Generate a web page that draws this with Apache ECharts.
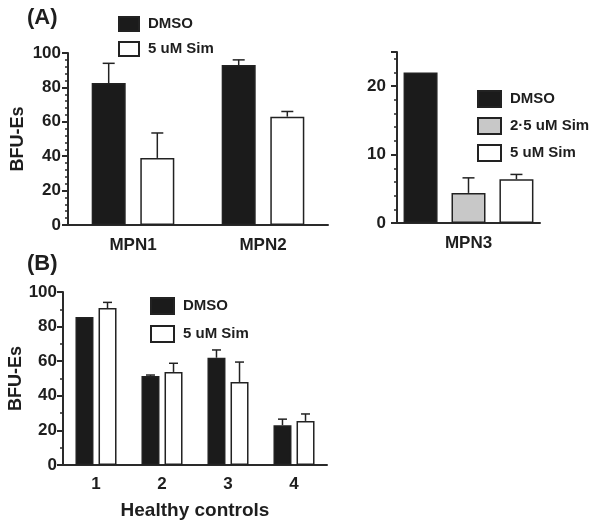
<!DOCTYPE html>
<html>
<head>
<meta charset="utf-8">
<script src="https://cdn.jsdelivr.net/npm/echarts@6/dist/echarts.min.js"></script>
<style>html,body{margin:0;padding:0;background:#fff}#c{width:601px;height:529px}</style>
</head>
<body>
<div id="c"></div>
<script>
// ---- Data ----
const mpnCats = ['MPN1', 'MPN2'];
const mpnDmso = [82.5, 93];
const mpnDmsoErr = [11.5, 3];
const mpnSim5 = [39, 63];
const mpnSim5Err = [14.5, 3];

const mpn3Cats = ['MPN3'];
const mpn3Dmso = [22];
const mpn3DmsoErr = [0];
const mpn3Sim25 = [4.4];
const mpn3Sim25Err = [2.2];
const mpn3Sim5 = [6.4];
const mpn3Sim5Err = [0.7];

const hcCats = ['1', '2', '3', '4'];
const hcDmso = [85.5, 51.5, 62, 23];
const hcDmsoErr = [0, 0.5, 4.5, 3.5];
const hcSim5 = [90.7, 53.8, 48, 25.5];
const hcSim5Err = [3.3, 5, 11.5, 4];

const yTicksA = [0, 20, 40, 60, 80, 100];
const yTicksA3 = [0, 10, 20];
const yTicksB = [0, 20, 40, 60, 80, 100];

// ---- Styles ----
const FONT = 'Liberation Sans, Arial, Helvetica, sans-serif';
const TXT = '#1e1e1e';
const BLACK = '#1b1b1b';
const GRAY = '#c8c8c8';
const WHITE = '#ffffff';
const EDGE = '#222';

function barStyle(color) {
  return { color: color, borderColor: EDGE, borderWidth: 1.5 };
}

function errSeries(name, cats, vals, errs, axisIdx, idx, n, bw, gapPct, capW) {
  const step = bw * (1 + gapPct);
  const off = (idx - (n - 1) / 2) * step;
  return {
    type: 'custom',
    name: name + ' err',
    xAxisIndex: axisIdx, yAxisIndex: axisIdx,
    z: 5,
    silent: true,
    data: vals.map((v, i) => [i, v, errs[i]]),
    renderItem: function (params, api) {
      const e = api.value(2);
      if (!e) return null;
      const p0 = api.coord([api.value(0), api.value(1)]);
      const p1 = api.coord([api.value(0), api.value(1) + e]);
      const x = p0[0] + off;
      const st = { stroke: EDGE, lineWidth: 1.5 };
      return {
        type: 'group',
        children: [
          { type: 'line', shape: { x1: x, y1: p0[1], x2: x, y2: p1[1] }, style: st },
          { type: 'line', shape: { x1: x - capW / 2, y1: p1[1], x2: x + capW / 2, y2: p1[1] }, style: st }
        ]
      };
    }
  };
}

function yAxisCfg(gridIdx, max, interval, minorSplit, ticks, margin, name, nameGap) {
  return {
    type: 'value', gridIndex: gridIdx, min: 0, max: max, interval: interval,
    name: name, nameLocation: 'middle', nameGap: nameGap, nameRotate: 90,
    nameTextStyle: { fontFamily: FONT, fontWeight: 'bold', fontSize: 18, color: TXT },
    axisLine: { show: true, lineStyle: { color: '#2a2a2a', width: 2 } },
    axisTick: { show: true, inside: false, length: 6, lineStyle: { color: '#2a2a2a', width: 2 } },
    minorTick: { show: true, splitNumber: minorSplit, length: 3, lineStyle: { color: '#2a2a2a', width: 1.5 } },
    splitLine: { show: false },
    axisLabel: {
      margin: margin, fontFamily: FONT, fontWeight: 'bold', fontSize: 17, color: TXT,
      showMaxLabel: ticks.indexOf(max) >= 0,
      formatter: function (v) { return ticks.indexOf(v) >= 0 ? String(v) : ''; }
    }
  };
}

function xAxisCfg(gridIdx, cats, margin, name, nameGap) {
  return {
    type: 'category', gridIndex: gridIdx, data: cats,
    name: name || '', nameLocation: 'middle', nameGap: nameGap || 0,
    nameTextStyle: { fontFamily: FONT, fontWeight: 'bold', fontSize: 19, color: TXT },
    axisLine: { show: true, lineStyle: { color: '#2a2a2a', width: 2 } },
    axisTick: { show: false },
    axisLabel: { margin: margin, fontFamily: FONT, fontWeight: 'bold', fontSize: 17, color: TXT }
  };
}

const legendText = { fontFamily: FONT, fontWeight: 'bold', fontSize: 15, color: TXT, padding: [0, 0, 0, 4] };

const option = {
  backgroundColor: '#fff',
  animation: false,
  title: [
    { text: '(A)', left: 22, top: 2, textStyle: { fontFamily: FONT, fontWeight: 'bold', fontSize: 22, color: TXT } },
    { text: '(B)', left: 22, top: 248, textStyle: { fontFamily: FONT, fontWeight: 'bold', fontSize: 22, color: TXT } }
  ],
  grid: [
    { left: 68, top: 53, width: 260, height: 172 },
    { left: 397, top: 52, width: 143, height: 171 },
    { left: 63, top: 292, width: 264, height: 173 }
  ],
  legend: [
    { orient: 'vertical', left: 118, top: 16, padding: 0, icon: 'rect', itemWidth: 20, itemHeight: 14, itemGap: 9,
      data: ['DMSO', '5 uM Sim'], textStyle: legendText, selectedMode: false },
    { orient: 'vertical', left: 477, top: 90, padding: 0, icon: 'rect', itemWidth: 23, itemHeight: 16, itemGap: 9,
      data: ['DMSO', '2·5 uM Sim', '5 uM Sim'], textStyle: legendText, selectedMode: false },
    { orient: 'vertical', left: 150, top: 297, padding: 0, icon: 'rect', itemWidth: 23, itemHeight: 16, itemGap: 10,
      data: ['DMSO', '5 uM Sim'], textStyle: legendText, selectedMode: false }
  ],
  xAxis: [
    xAxisCfg(0, mpnCats, 12),
    xAxisCfg(1, mpn3Cats, 12),
    xAxisCfg(2, hcCats, 11, 'Healthy controls', 36)
  ],
  yAxis: [
    yAxisCfg(0, 100, 20, 5, yTicksA, 7, 'BFU-Es', 41),
    yAxisCfg(1, 25, 10, 5, yTicksA3, 11, '', 0),
    yAxisCfg(2, 100, 20, 2, yTicksB, 6, 'BFU-Es', 36)
  ],
  series: [
    { type: 'bar', name: 'DMSO', xAxisIndex: 0, yAxisIndex: 0, data: mpnDmso, barWidth: 34, barGap: '43%', itemStyle: barStyle(BLACK) },
    { type: 'bar', name: '5 uM Sim', xAxisIndex: 0, yAxisIndex: 0, data: mpnSim5, barWidth: 34, barGap: '43%', itemStyle: barStyle(WHITE) },
    errSeries('DMSO', mpnCats, mpnDmso, mpnDmsoErr, 0, 0, 2, 34, 0.43, 12),
    errSeries('5 uM Sim', mpnCats, mpnSim5, mpnSim5Err, 0, 1, 2, 34, 0.43, 12),

    { type: 'bar', name: 'DMSO', xAxisIndex: 1, yAxisIndex: 1, data: mpn3Dmso, barWidth: 34, barGap: '41%', itemStyle: barStyle(BLACK) },
    { type: 'bar', name: '2·5 uM Sim', xAxisIndex: 1, yAxisIndex: 1, data: mpn3Sim25, barWidth: 34, barGap: '41%', itemStyle: barStyle(GRAY) },
    { type: 'bar', name: '5 uM Sim', xAxisIndex: 1, yAxisIndex: 1, data: mpn3Sim5, barWidth: 34, barGap: '41%', itemStyle: barStyle(WHITE) },
    errSeries('DMSO', mpn3Cats, mpn3Dmso, mpn3DmsoErr, 1, 0, 3, 34, 0.41, 12),
    errSeries('2·5 uM Sim', mpn3Cats, mpn3Sim25, mpn3Sim25Err, 1, 1, 3, 34, 0.41, 12),
    errSeries('5 uM Sim', mpn3Cats, mpn3Sim5, mpn3Sim5Err, 1, 2, 3, 34, 0.41, 12),

    { type: 'bar', name: 'DMSO', xAxisIndex: 2, yAxisIndex: 2, data: hcDmso, barWidth: 18, barGap: '28%', itemStyle: barStyle(BLACK) },
    { type: 'bar', name: '5 uM Sim', xAxisIndex: 2, yAxisIndex: 2, data: hcSim5, barWidth: 18, barGap: '28%', itemStyle: barStyle(WHITE) },
    errSeries('DMSO', hcCats, hcDmso, hcDmsoErr, 2, 0, 2, 18, 0.28, 9),
    errSeries('5 uM Sim', hcCats, hcSim5, hcSim5Err, 2, 1, 2, 18, 0.28, 9)
  ]
};

const chart = echarts.init(document.getElementById('c'), null, { renderer: 'canvas' });
chart.setOption(option);
</script>
</body>
</html>
